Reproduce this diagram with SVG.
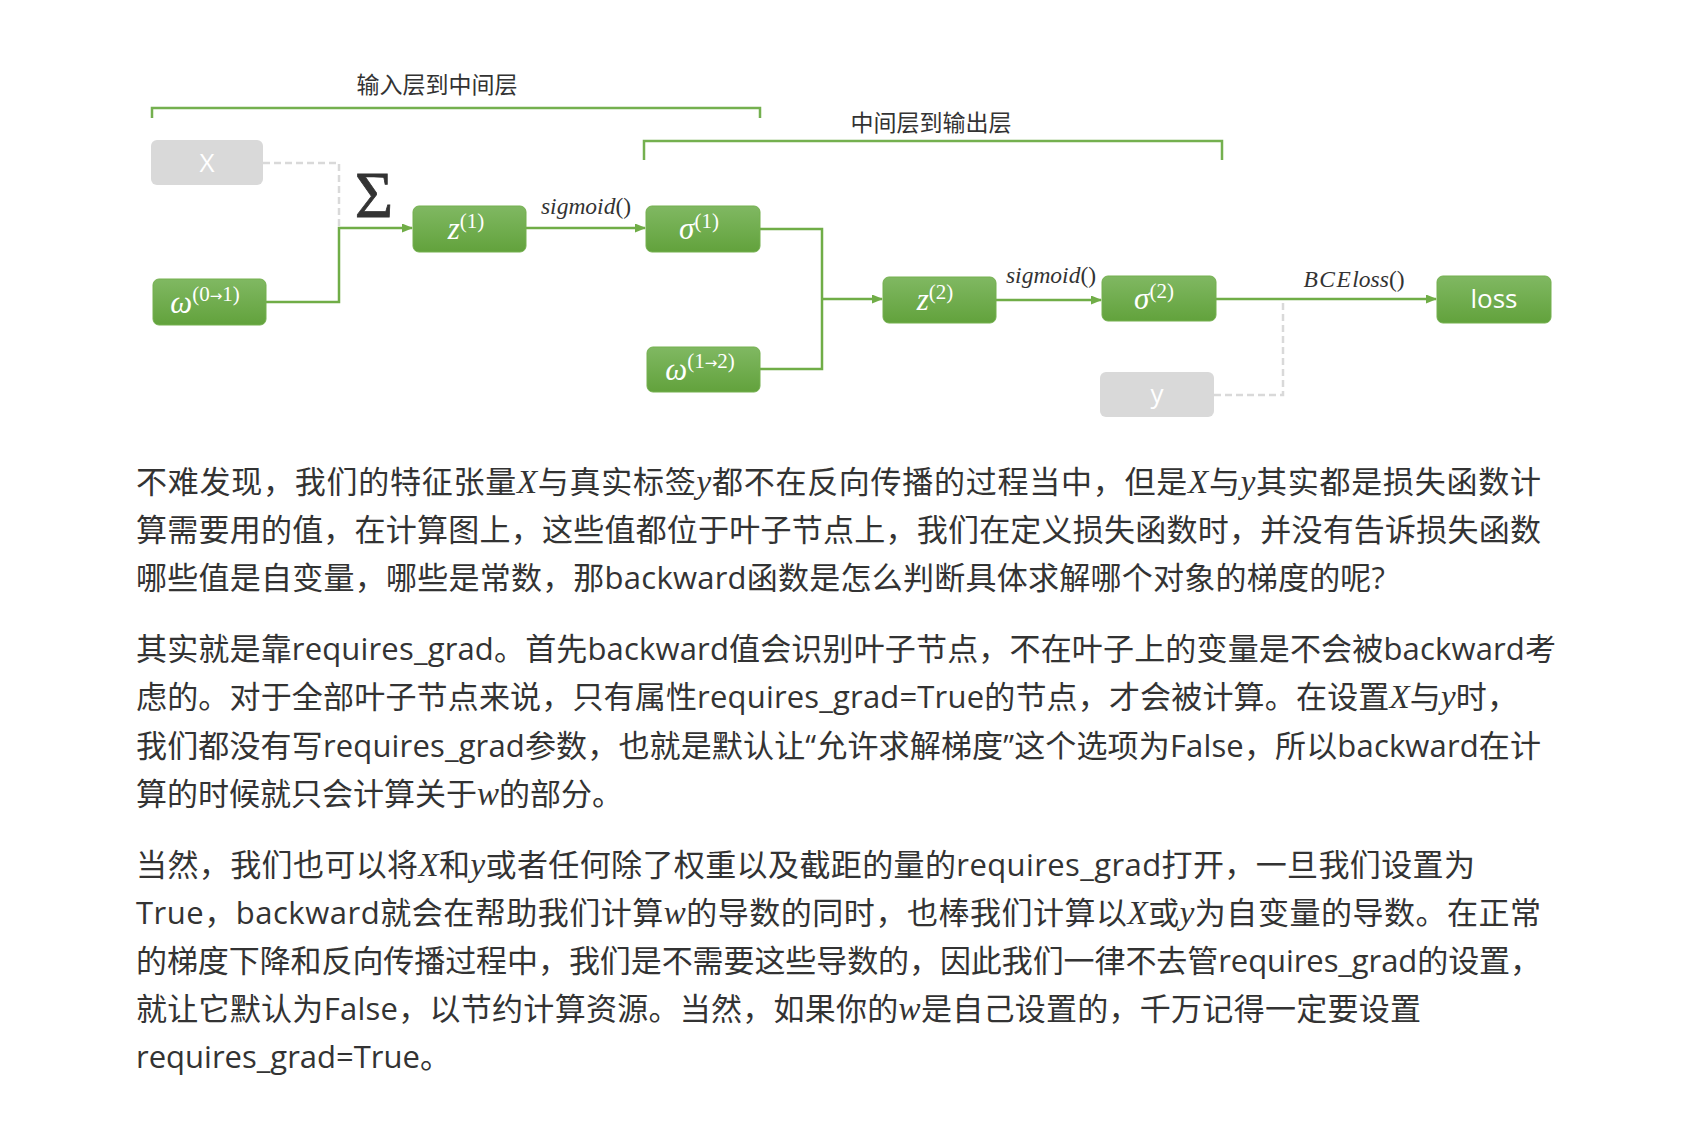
<svg xmlns="http://www.w3.org/2000/svg" width="1688" height="1148" viewBox="0 0 1688 1148">
<defs>
<linearGradient id="g" x1="0" y1="0" x2="0" y2="1">
<stop offset="0" stop-color="#80b862"/>
<stop offset="1" stop-color="#62a23c"/>
</linearGradient>
<marker id="ah" markerUnits="userSpaceOnUse" markerWidth="11" markerHeight="9" refX="10" refY="4.5" orient="auto">
<path d="M0,0 L11,4.5 L0,9 z" fill="#70ad47"/>
</marker>
</defs>
<style>
.box{fill:url(#g);stroke:#74b04f;stroke-width:1}
.gbox{fill:#d9d9d9}
.nl{fill:#fff;font-family:"Liberation Serif",serif}
.mi{font-style:italic;font-size:31px}
.sup{font-size:21px}
.ar{font-family:"DejaVu Sans",sans-serif;font-size:15px}
.sl{fill:#fff;font-family:"Open Sans",sans-serif;font-size:26px}
.c{fill:none;stroke:#70ad47;stroke-width:2.5}
.d{fill:none;stroke:#d9d9d9;stroke-width:2.5;stroke-dasharray:7 4}
.br{fill:none;stroke:#74b04f;stroke-width:2.5}
.bl{font-family:"Noto Sans CJK SC",sans-serif;font-size:23px;fill:#333}
.el{font-family:"Liberation Serif",serif;font-style:italic;font-size:23.5px;fill:#333}
.p{font-family:"Open Sans","Noto Sans CJK SC",sans-serif;font-size:31px;fill:#333}
.m{font-family:"Liberation Serif",serif;font-style:italic;font-size:33px}
</style>
<rect width="1688" height="1148" fill="#fff"/>

<g id="brackets">
<path class="br" d="M152,118 V108 H760 V118"/>
<text class="bl" x="437" y="93" text-anchor="middle">输入层到中间层</text>
<path class="br" d="M644,160 V141 H1222 V160"/>
<text class="bl" x="931" y="131" text-anchor="middle">中间层到输出层</text>
</g>

<g id="connectors">
<path class="d" d="M263,163 H339 V226"/>
<path class="c" d="M266,302 H339 V228 H412" marker-end="url(#ah)"/>
<path class="c" d="M526,228 H645" marker-end="url(#ah)"/>
<path class="c" d="M760,229 H822 V369 H760"/>
<path class="c" d="M822,299 H882" marker-end="url(#ah)"/>
<path class="c" d="M996,300 H1101" marker-end="url(#ah)"/>
<path class="d" d="M1214,395 H1283 V300"/>
<path class="c" d="M1216,299 H1436" marker-end="url(#ah)"/>
<text class="el" x="586" y="214" text-anchor="middle">sigmoid<tspan font-style="normal">()</tspan></text>
<text class="el" x="1051" y="283" text-anchor="middle">sigmoid<tspan font-style="normal">()</tspan></text>
<text class="el" x="1354" y="287" text-anchor="middle"><tspan letter-spacing="1.5">BCE</tspan>loss<tspan font-style="normal">()</tspan></text>
<text x="374" y="217" text-anchor="middle" font-family="Liberation Serif, serif" font-size="66" fill="#333" stroke="#333" stroke-width="0.8">Σ</text>
</g>

<g id="node-X">
<rect class="gbox" x="151" y="140" width="112" height="45" rx="6"/>
<text class="sl" x="207" y="172" text-anchor="middle">X</text>
</g>
<g id="node-w01">
<rect class="box" x="153" y="279" width="113" height="46" rx="6"/>
<text class="nl" x="205" y="313" text-anchor="middle"><tspan class="mi">ω</tspan><tspan class="sup" dy="-12">(0<tspan class="ar">→</tspan>1)</tspan></text>
</g>
<g id="node-z1">
<rect class="box" x="413" y="206" width="113" height="46" rx="6"/>
<text class="nl" x="466" y="239" text-anchor="middle"><tspan class="mi">z</tspan><tspan class="sup" dy="-11">(1)</tspan></text>
</g>
<g id="node-s1">
<rect class="box" x="646" y="206" width="114" height="46" rx="6"/>
<text class="nl" x="699" y="239" text-anchor="middle"><tspan class="mi">σ</tspan><tspan class="sup" dy="-11">(1)</tspan></text>
</g>
<g id="node-w12">
<rect class="box" x="647" y="347" width="113" height="45" rx="6"/>
<text class="nl" x="700" y="380" text-anchor="middle"><tspan class="mi">ω</tspan><tspan class="sup" dy="-12">(1<tspan class="ar">→</tspan>2)</tspan></text>
</g>
<g id="node-z2">
<rect class="box" x="883" y="277" width="113" height="46" rx="6"/>
<text class="nl" x="935" y="310" text-anchor="middle"><tspan class="mi">z</tspan><tspan class="sup" dy="-11">(2)</tspan></text>
</g>
<g id="node-s2">
<rect class="box" x="1102" y="276" width="114" height="45" rx="6"/>
<text class="nl" x="1154" y="309" text-anchor="middle"><tspan class="mi">σ</tspan><tspan class="sup" dy="-11">(2)</tspan></text>
</g>
<g id="node-y">
<rect class="gbox" x="1100" y="372" width="114" height="45" rx="6"/>
<text class="sl" x="1157" y="403" text-anchor="middle">y</text>
</g>
<g id="node-loss">
<rect class="box" x="1437" y="276" width="114" height="47" rx="6"/>
<text class="sl" x="1494" y="308" text-anchor="middle">loss</text>
</g>

<g id="text">
<text class="p" x="136" y="493" textLength="1405" lengthAdjust="spacing">不难发现，我们的特征张量<tspan class="m">X</tspan>与真实标签<tspan class="m">y</tspan>都不在反向传播的过程当中，但是<tspan class="m">X</tspan>与<tspan class="m">y</tspan>其实都是损失函数计</text>
<text class="p" x="136" y="541" textLength="1405" lengthAdjust="spacing">算需要用的值，在计算图上，这些值都位于叶子节点上，我们在定义损失函数时，并没有告诉损失函数</text>
<text class="p" x="136" y="589" textLength="1249" lengthAdjust="spacing">哪些值是自变量，哪些是常数，那backward函数是怎么判断具体求解哪个对象的梯度的呢?</text>

<text class="p" x="136" y="660" textLength="1420" lengthAdjust="spacing">其实就是靠requires_grad。首先backward值会识别叶子节点，不在叶子上的变量是不会被backward考</text>
<text class="p" x="136" y="708" textLength="1382" lengthAdjust="spacing">虑的。对于全部叶子节点来说，只有属性requires_grad=True的节点，才会被计算。在设置<tspan class="m">X</tspan>与<tspan class="m">y</tspan>时，</text>
<text class="p" x="136" y="757" textLength="1405" lengthAdjust="spacing">我们都没有写requires_grad参数，也就是默认让“允许求解梯度”这个选项为False，所以backward在计</text>
<text class="p" x="136" y="805">算的时候就只会计算关于<tspan class="m">w</tspan>的部分。</text>

<text class="p" x="136" y="876" textLength="1339" lengthAdjust="spacing">当然，我们也可以将<tspan class="m">X</tspan>和<tspan class="m">y</tspan>或者任何除了权重以及截距的量的requires_grad打开，一旦我们设置为</text>
<text class="p" x="136" y="924" textLength="1405" lengthAdjust="spacing">True，backward就会在帮助我们计算<tspan class="m">w</tspan>的导数的同时，也棒我们计算以<tspan class="m">X</tspan>或<tspan class="m">y</tspan>为自变量的导数。在正常</text>
<text class="p" x="136" y="972" textLength="1405" lengthAdjust="spacing">的梯度下降和反向传播过程中，我们是不需要这些导数的，因此我们一律不去管requires_grad的设置，</text>
<text class="p" x="136" y="1020" textLength="1285" lengthAdjust="spacing">就让它默认为False，以节约计算资源。当然，如果你的<tspan class="m">w</tspan>是自己设置的，千万记得一定要设置</text>
<text class="p" x="136" y="1068">requires_grad=True。</text>
</g>
</svg>
